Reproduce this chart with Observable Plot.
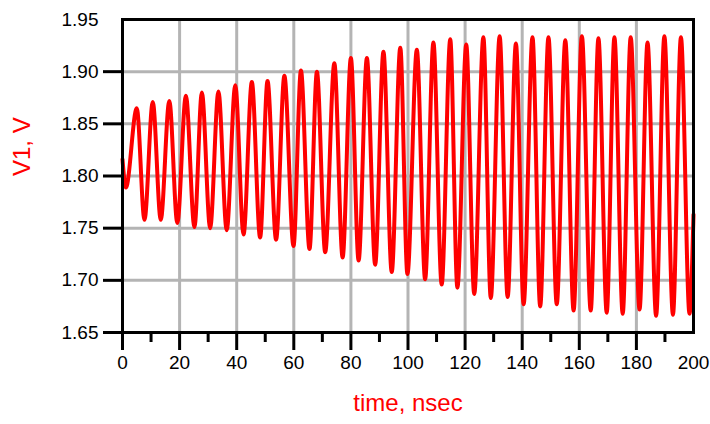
<!DOCTYPE html>
<html>
<head>
<meta charset="utf-8">
<script src="https://cdn.jsdelivr.net/npm/d3@7"></script>
<script src="https://cdn.jsdelivr.net/npm/@observablehq/plot@0.6"></script>
<style>
  html, body { margin: 0; padding: 0; background: white; }
  #chart svg { display: block; }
</style>
</head>
<body>
<div id="chart"></div>
<script>
// Start of the trace (transient)
const startT = [0, 1.2];
const startV = [1.816, 1.789];
// Local maxima (time in nsec, voltage in V)
const peakT = [5.0, 10.6, 16.4, 22.2, 27.8, 33.6, 39.5, 45.3, 50.8, 56.7, 62.5, 68.1, 74.2, 80.0, 85.6, 91.4, 97.3, 103.1, 108.9, 114.8, 120.4, 126.4, 132.1, 137.8, 143.6, 149.2, 155.1, 160.9, 166.7, 172.3, 178.0, 183.9, 189.8, 195.6];
const peakV = [1.865, 1.871, 1.872, 1.877, 1.880, 1.881, 1.887, 1.890, 1.891, 1.896, 1.901, 1.900, 1.908, 1.913, 1.913, 1.919, 1.923, 1.921, 1.928, 1.931, 1.926, 1.933, 1.934, 1.927, 1.933, 1.933, 1.930, 1.934, 1.932, 1.933, 1.933, 1.928, 1.934, 1.933];
// Local minima
const troughT = [7.7, 13.4, 19.2, 25.2, 30.7, 36.5, 42.4, 48.2, 53.8, 59.9, 65.5, 71.0, 77.1, 82.7, 88.5, 94.3, 99.8, 106.0, 111.8, 117.3, 123.2, 129.0, 134.9, 140.5, 146.3, 152.1, 158.0, 164.0, 169.6, 175.2, 181.1, 186.9, 192.8, 198.6];
const troughV = [1.758, 1.758, 1.755, 1.751, 1.750, 1.748, 1.744, 1.741, 1.739, 1.733, 1.730, 1.727, 1.722, 1.719, 1.715, 1.708, 1.706, 1.701, 1.696, 1.693, 1.687, 1.683, 1.684, 1.677, 1.675, 1.677, 1.671, 1.671, 1.669, 1.668, 1.672, 1.666, 1.667, 1.668];
// End of the trace
const endT = [200];
const endV = [1.763];

// Axis ticks
const xMajorTicks = [0, 20, 40, 60, 80, 100, 120, 140, 160, 180];
const xMinorTicks = [10, 30, 50, 70, 90, 110, 130, 150, 170, 190];
const xLabels = [0, 20, 40, 60, 80, 100, 120, 140, 160, 180, 200];
const yTicks = [1.65, 1.70, 1.75, 1.80, 1.85, 1.90];
const yLabels = [1.65, 1.70, 1.75, 1.80, 1.85, 1.90, 1.95];
const xGrid = [20, 40, 60, 80, 100, 120, 140, 160, 180];
const yGrid = [1.70, 1.75, 1.80, 1.85, 1.90];

const xTitle = "time, nsec";
const yTitle = "V1, V";

const pts = [];
startT.forEach((t, i) => pts.push({t, v: startV[i]}));
peakT.forEach((t, i) => pts.push({t, v: peakV[i]}));
troughT.forEach((t, i) => pts.push({t, v: troughV[i]}));
endT.forEach((t, i) => pts.push({t, v: endV[i]}));
pts.sort((a, b) => a.t - b.t);

const chart = Plot.plot({
  width: 710,
  height: 424,
  marginLeft: 122,
  marginRight: 17,
  marginTop: 19,
  marginBottom: 92,
  style: {fontFamily: "'Liberation Sans', Arial, sans-serif", fontSize: "19px", background: "white", color: "black"},
  x: {domain: [0, 200]},
  y: {domain: [1.65, 1.95]},
  marks: [
    Plot.gridX(xGrid, {stroke: "#b4b4b4", strokeOpacity: 1, strokeWidth: 3}),
    Plot.gridY(yGrid, {stroke: "#b4b4b4", strokeOpacity: 1, strokeWidth: 3}),
    Plot.line(pts, {x: "t", y: "v", stroke: "#ff0000", strokeWidth: 4, curve: "monotone-x"}),
    Plot.frame({stroke: "black", strokeWidth: 3}),
    Plot.axisY(yTicks, {tickSize: 19, tickFormat: () => "", strokeWidth: 3, label: null}),
    Plot.axisY(yLabels, {tickSize: 0, tickPadding: 24, tickFormat: d3.format(".2f"), fontSize: 19, fill: "black", label: null}),
    Plot.axisX(xMajorTicks, {tickSize: 18, tickFormat: () => "", strokeWidth: 3, label: null}),
    Plot.axisX(xMinorTicks, {tickSize: 10, tickFormat: () => "", strokeWidth: 3, label: null}),
    Plot.axisX(xLabels, {tickSize: 0, tickPadding: 23, fontSize: 19, fill: "black", label: null}),
    Plot.text([yTitle], {frameAnchor: "left", dx: -100, rotate: -90, fill: "#ff0000", fontSize: 24, text: d => d}),
    Plot.text([xTitle], {frameAnchor: "bottom", dy: 78, fill: "#ff0000", fontSize: 24, text: d => d})
  ]
});
document.getElementById("chart").appendChild(chart);
</script>
</body>
</html>
